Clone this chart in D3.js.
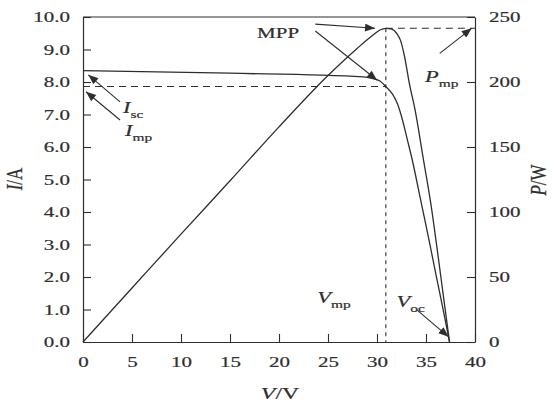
<!DOCTYPE html>
<html>
<head>
<meta charset="utf-8">
<script src="https://cdn.jsdelivr.net/npm/d3@7"></script>
<style>
  html, body { margin: 0; padding: 0; background: #fff; }
  svg { display: block; font-family: 'Liberation Serif', 'DejaVu Serif', serif; }
</style>
</head>
<body>
<div id="chart"></div>
<script>
// ── Data ────────────────────────────────────────────────────────────────────
const vTicks = [0, 5, 10, 15, 20, 25, 30, 35, 40];
const iTicks = [0, 1, 2, 3, 4, 5, 6, 7, 8, 9, 10];
const pTicks = [0, 50, 100, 150, 200, 250];

// I–V curve
const ivV = [0, 15, 28.6, 29.5, 30.3, 30.9, 31.6, 32.1, 32.6, 33.1, 33.6, 34.4, 35.3, 36.1, 36.8, 37.4];
const ivI = [8.35, 8.27, 8.16, 8.11, 8.03, 7.86, 7.62, 7.32, 6.83, 6.22, 5.6, 4.45, 3.15, 1.95, 0.92, 0];

// P–V curve
const pvV = [0, 5, 10, 15, 20, 25, 28, 29.5, 30.3, 30.9, 31.5, 32.0, 32.4, 32.8, 33.3, 33.9, 34.7, 35.5, 36.2, 36.8, 37.4];
const pvP = [0, 41.5, 83, 124, 165.5, 205, 226, 235.5, 240, 241.3, 240.6, 237.5, 232, 220, 199, 178, 142, 106, 68, 34, 0];

// maximum power point
const Vmp = 30.9, Imp = 7.86, Pmp = 241.3;

// ── Layout ──────────────────────────────────────────────────────────────────
const W = 556, H = 403;
const X0 = 83, X1 = 475, Y0 = 342, Y1 = 17;
const INK = '#2e2e2e';
const SX = 1.4; // glyphs in the reference are stretched horizontally

const x = d3.scaleLinear().domain([0, 40]).range([X0, X1]);
const yI = d3.scaleLinear().domain([0, 10]).range([Y0, Y1]);
const yP = d3.scaleLinear().domain([0, 250]).range([Y0, Y1]);

const svg = d3.select('#chart').append('svg')
  .attr('width', W).attr('height', H)
  .attr('viewBox', `0 0 ${W} ${H}`);

svg.append('rect').attr('width', W).attr('height', H).attr('fill', '#fff');

const defs = svg.append('defs');
defs.append('marker')
  .attr('id', 'head')
  .attr('viewBox', '0 0 10 8')
  .attr('refX', 10).attr('refY', 4)
  .attr('markerWidth', 11).attr('markerHeight', 8)
  .attr('markerUnits', 'userSpaceOnUse')
  .attr('orient', 'auto')
  .append('path')
  .attr('d', 'M0,0 L10,4 L0,8 Z')
  .attr('fill', INK);

// stretch tick text horizontally around its own anchor
function stretch(sel) {
  sel.selectAll('.tick text').each(function () {
    const t = d3.select(this);
    const tx = +t.attr('x') || 0;
    t.attr('x', 0).attr('transform', `translate(${tx},0) scale(${SX},1)`);
  });
}

function styleAxis(g) {
  g.select('.domain').attr('stroke', INK).attr('stroke-width', 1.2);
  g.selectAll('.tick line').attr('stroke', INK).attr('stroke-width', 1.1);
  g.selectAll('.tick text').attr('fill', INK).attr('font-size', 15)
    .attr('stroke', INK).attr('stroke-width', 0.2)
    .attr('font-family', "'Liberation Serif', serif");
  stretch(g);
}

// ── Axes ────────────────────────────────────────────────────────────────────
svg.append('g')
  .attr('transform', `translate(0,${Y0})`)
  .call(d3.axisBottom(x).tickValues(vTicks).tickSizeInner(-8).tickSizeOuter(0).tickPadding(14))
  .call(styleAxis);

svg.append('g')
  .attr('transform', `translate(${X0},0)`)
  .call(d3.axisLeft(yI).tickValues(iTicks).tickFormat(d3.format('.1f'))
    .tickSizeInner(-8).tickSizeOuter(0).tickPadding(13))
  .call(styleAxis);

svg.append('g')
  .attr('transform', `translate(${X1},0)`)
  .call(d3.axisRight(yP).tickValues(pTicks).tickSizeInner(-8).tickSizeOuter(0).tickPadding(14))
  .call(styleAxis);

// top frame
svg.append('line')
  .attr('x1', X0).attr('x2', X1).attr('y1', Y1).attr('y2', Y1)
  .attr('stroke', INK).attr('stroke-width', 1.2);

// axis titles
function axisTitle(px, py, rot, parts) {
  const t = svg.append('text')
    .attr('transform', `translate(${px},${py}) scale(${SX},1)${rot ? ' rotate(-90)' : ''}`)
    .attr('text-anchor', 'middle')
    .attr('font-size', 17)
    .attr('fill', INK).attr('stroke', INK).attr('stroke-width', 0.2);
  parts.forEach(([s, it]) => t.append('tspan').attr('font-style', it ? 'italic' : null).text(s));
}
axisTitle(280, 399, false, [['V', true], ['/V', false]]);
axisTitle(22, 179, true, [['I', true], ['/A', false]]);
axisTitle(546, 180, true, [['P', true], ['/W', false]]);

// ── Guide lines through the MPP ─────────────────────────────────────────────
const dash = (x1, y1, x2, y2, pat) => svg.append('line')
  .attr('x1', x1).attr('y1', y1).attr('x2', x2).attr('y2', y2)
  .attr('stroke', INK).attr('stroke-width', 1.1)
  .attr('stroke-dasharray', pat);

dash(x(0), yI(Imp), x(Vmp), yI(Imp), '7,5');
dash(x(Vmp), yP(Pmp), X1, yP(Pmp), '7,5');
dash(x(Vmp), yP(Pmp), x(Vmp), Y0, '4,4');

// ── Curves ──────────────────────────────────────────────────────────────────
const ivPts = ivV.map((v, k) => [v, ivI[k]]);
const pvPts = pvV.map((v, k) => [v, pvP[k]]);

svg.append('path')
  .datum(ivPts)
  .attr('fill', 'none').attr('stroke', INK).attr('stroke-width', 1.3)
  .attr('d', d3.line().x(d => x(d[0])).y(d => yI(d[1])).curve(d3.curveMonotoneX));

svg.append('path')
  .datum(pvPts)
  .attr('fill', 'none').attr('stroke', INK).attr('stroke-width', 1.3)
  .attr('d', d3.line().x(d => x(d[0])).y(d => yP(d[1])).curve(d3.curveMonotoneX));

// ── Annotations (positions in data units) ───────────────────────────────────
const arrows = [
  { from: [23.7, 9.78], to: [29.8, yI.invert(yP(Pmp))] },   // MPP → P peak
  { from: [23.7, 9.57], to: [30.0, 8.06] },                 // MPP → I–V knee
  { from: [3.78, 7.39], to: [0.54, 8.22] },                 // Isc
  { from: [3.78, 6.83], to: [0.31, 7.70] },                 // Imp
  { from: [36.4, yI.invert(yP(222))], to: [39.66, yI.invert(yP(Pmp))] }, // Pmp
  { from: [34.1, 0.98], to: [37.3, 0.16] }                  // Voc
];

svg.selectAll('line.arrow')
  .data(arrows).enter()
  .append('line')
  .attr('class', 'arrow')
  .attr('x1', d => x(d.from[0])).attr('y1', d => yI(d.from[1]))
  .attr('x2', d => x(d.to[0])).attr('y2', d => yI(d.to[1]))
  .attr('stroke', INK).attr('stroke-width', 1.1)
  .attr('marker-end', 'url(#head)');

const labels = [
  { v: 17.76, i: 9.35, main: 'MPP', sub: '', italic: false },
  { v: 4.08, i: 7.05, main: 'I', sub: 'sc', italic: true },
  { v: 4.29, i: 6.34, main: 'I', sub: 'mp', italic: true },
  { v: 34.9, i: yI.invert(yP(200)), main: 'P', sub: 'mp', italic: true },
  { v: 23.9, i: 1.2, main: 'V', sub: 'mp', italic: true },
  { v: 32.0, i: 1.08, main: 'V', sub: 'oc', italic: true }
];

labels.forEach(d => {
  const t = svg.append('text')
    .attr('transform', `translate(${x(d.v)},${yI(d.i)}) scale(${SX},1)`)
    .attr('fill', INK).attr('stroke', INK).attr('stroke-width', 0.2)
    .attr('font-size', d.sub ? 16 : 15);
  t.append('tspan').attr('font-style', d.italic ? 'italic' : null).text(d.main);
  if (d.sub) t.append('tspan').attr('font-size', 11).attr('dy', 5).text(d.sub);
});
</script>
</body>
</html>
